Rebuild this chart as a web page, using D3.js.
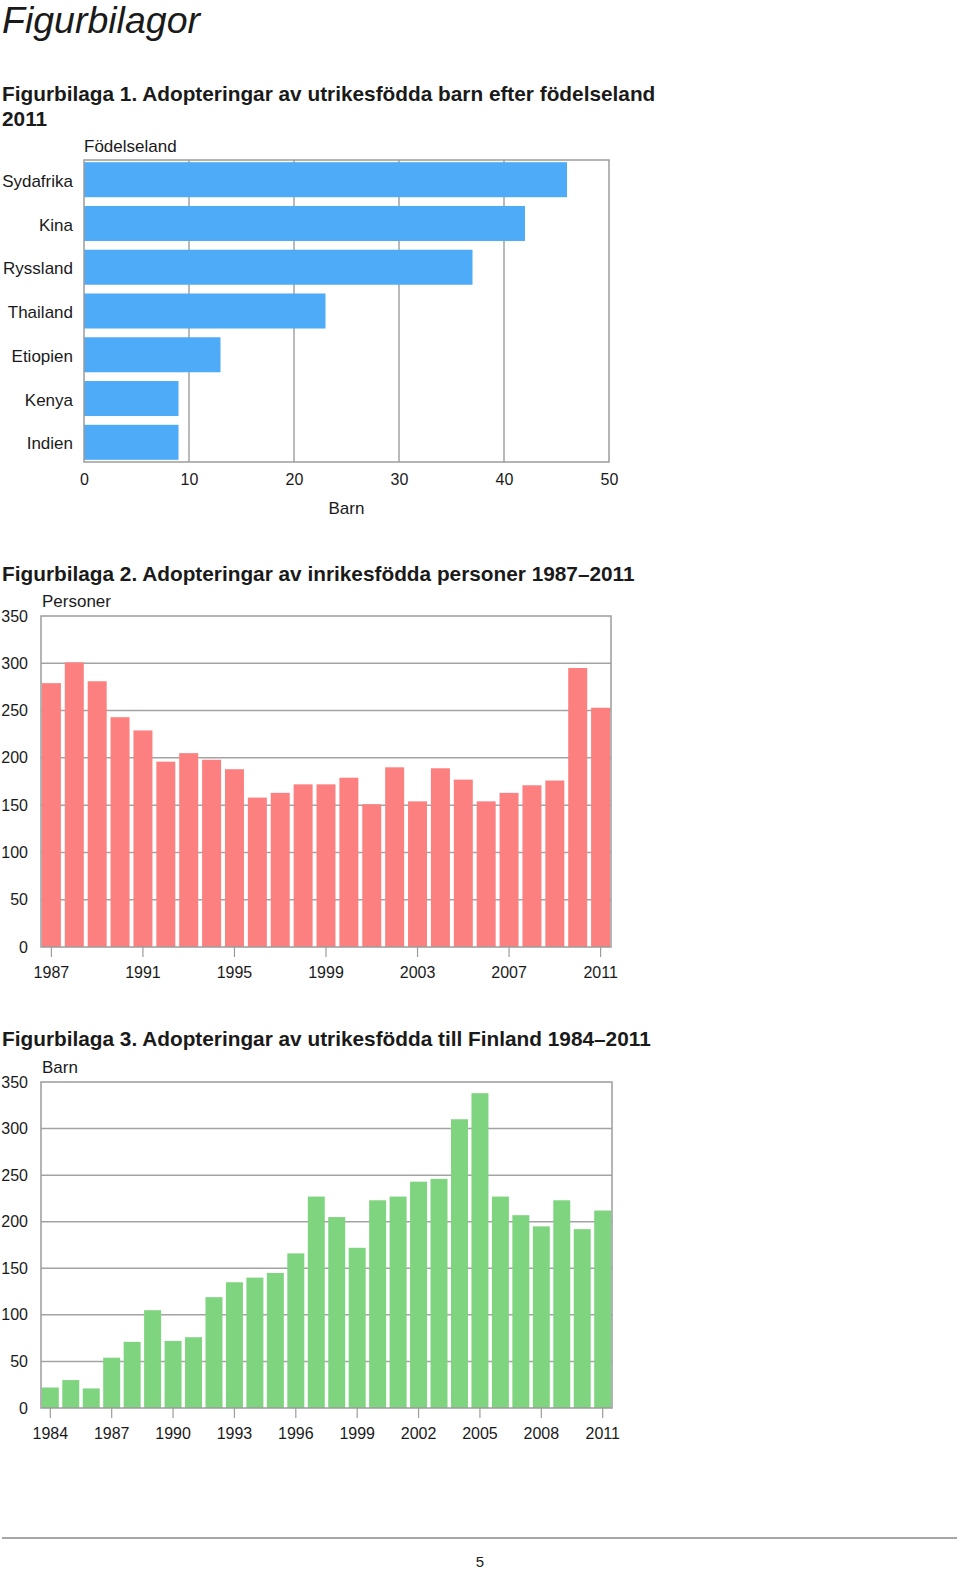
<!DOCTYPE html>
<html>
<head>
<meta charset="utf-8">
<script src="https://cdn.jsdelivr.net/npm/d3@7"></script>
<style>
  html, body { margin: 0; padding: 0; background: #fff; }
  svg { display: block; }
  text { font-family: "Liberation Sans", Arial, sans-serif; fill: #1a1a1a; }
</style>
</head>
<body>
<svg id="page" width="960" height="1572"></svg>
<script>
// ---------- Data ----------
const countries = ["Sydafrika", "Kina", "Ryssland", "Thailand", "Etiopien", "Kenya", "Indien"];
const countryValues = [46, 42, 37, 23, 13, 9, 9];
const xTicks1 = [0, 10, 20, 30, 40, 50];

const years2 = ["1987","1988","1989","1990","1991","1992","1993","1994","1995","1996","1997","1998","1999","2000","2001","2002","2003","2004","2005","2006","2007","2008","2009","2010","2011"];
const values2 = [279, 301, 281, 243, 229, 196, 205, 198, 188, 158, 163, 172, 172, 179, 151, 190, 154, 189, 177, 154, 163, 171, 176, 295, 253];
const xLabels2 = ["1987","1991","1995","1999","2003","2007","2011"];

const years3 = ["1984","1985","1986","1987","1988","1989","1990","1991","1992","1993","1994","1995","1996","1997","1998","1999","2000","2001","2002","2003","2004","2005","2006","2007","2008","2009","2010","2011"];
const values3 = [22, 30, 21, 54, 71, 105, 72, 76, 119, 135, 140, 145, 166, 227, 205, 172, 223, 227, 243, 246, 310, 338, 227, 207, 195, 223, 192, 212];
const xLabels3 = ["1984","1987","1990","1993","1996","1999","2002","2005","2008","2011"];

const yTicks = [0, 50, 100, 150, 200, 250, 300, 350];

// ---------- Styles ----------
const GRID = "#a3a3a3";
const BORDER = "#9c9c9c";
const BLUE = "#4eabf8";
const RED = "#fc8080";
const GREEN = "#7fd47f";
const FONT = "'Liberation Sans', Arial, sans-serif";

const svg = d3.select("#page");

// Page headings
svg.append("text").attr("x", 2).attr("y", 33)
  .style("font-size", "37.5px").style("font-style", "italic").text("Figurbilagor");

function heading(y, t) {
  svg.append("text").attr("x", 2).attr("y", y)
    .style("font-size", "20.8px").style("font-weight", "bold").text(t);
}
heading(101, "Figurbilaga 1. Adopteringar av utrikesfödda barn efter födelseland");
heading(126, "2011");
heading(581, "Figurbilaga 2. Adopteringar av inrikesfödda personer 1987–2011");
heading(1046, "Figurbilaga 3. Adopteringar av utrikesfödda till Finland 1984–2011");

// ---------- Chart 1: horizontal bars ----------
(function () {
  const L = 84, R = 609, T = 160, B = 462;
  const g = svg.append("g");
  const x = d3.scaleLinear().domain([0, 50]).range([L, R]);
  const y = d3.scaleBand().domain(countries).range([T, B]).paddingInner(0.2).paddingOuter(0.05);

  g.selectAll("line.grid").data(xTicks1.slice(1, -1)).join("line")
    .attr("x1", d => x(d)).attr("x2", d => x(d)).attr("y1", T).attr("y2", B)
    .attr("stroke", GRID).attr("stroke-width", 1.5);

  g.selectAll("rect.bar").data(countries).join("rect")
    .attr("x", x(0)).attr("y", d => y(d))
    .attr("width", (d, i) => x(countryValues[i]) - x(0))
    .attr("height", y.bandwidth()).attr("fill", BLUE);

  g.append("rect").attr("x", L).attr("y", T).attr("width", R - L).attr("height", B - T)
    .attr("fill", "none").attr("stroke", BORDER).attr("stroke-width", 1.5);

  const ax = g.append("g").attr("transform", `translate(0,${B})`)
    .call(d3.axisBottom(x).tickValues(xTicks1).tickSize(0).tickPadding(12));
  ax.select(".domain").remove();
  ax.selectAll("text").style("font-size", "16px").style("font-family", FONT).attr("fill", "#1a1a1a");

  const ay = g.append("g").attr("transform", `translate(${L},0)`)
    .call(d3.axisLeft(y).tickSize(0).tickPadding(11));
  ay.select(".domain").remove();
  ay.selectAll("text").style("font-size", "17px").style("font-family", FONT).attr("fill", "#1a1a1a")
    .attr("dy", "0.42em");

  g.append("text").attr("x", 84).attr("y", 152).style("font-size", "17px").text("Födelseland");
  g.append("text").attr("x", (L + R) / 2).attr("y", 514).attr("text-anchor", "middle")
    .style("font-size", "17px").text("Barn");
})();

// ---------- Vertical bar chart helper ----------
function vbar(cfg) {
  const { L, R, T, B, cats, vals, labels, color, unit } = cfg;
  const g = svg.append("g");
  const x = d3.scaleBand().domain(cats).range([L, R]).paddingInner(0.17).paddingOuter(0.04);
  const y = d3.scaleLinear().domain([0, 350]).range([B, T]);

  g.selectAll("line.grid").data(yTicks.slice(1, -1)).join("line")
    .attr("x1", L).attr("x2", R).attr("y1", d => y(d)).attr("y2", d => y(d))
    .attr("stroke", GRID).attr("stroke-width", 1.5);

  g.selectAll("rect.bar").data(cats).join("rect")
    .attr("x", d => x(d)).attr("y", (d, i) => y(vals[i]))
    .attr("width", x.bandwidth()).attr("height", (d, i) => y(0) - y(vals[i]))
    .attr("fill", color);

  g.append("rect").attr("x", L).attr("y", T).attr("width", R - L).attr("height", B - T)
    .attr("fill", "none").attr("stroke", BORDER).attr("stroke-width", 1.5);

  const ay = g.append("g").attr("transform", `translate(${L},0)`)
    .call(d3.axisLeft(y).tickValues(yTicks).tickSize(0).tickPadding(13));
  ay.select(".domain").remove();
  ay.selectAll("text").style("font-size", "16px").style("font-family", FONT).attr("fill", "#1a1a1a");

  const ax = g.append("g").attr("transform", `translate(0,${B})`)
    .call(d3.axisBottom(x).tickValues(labels).tickSize(10).tickPadding(10));
  ax.select(".domain").remove();
  ax.selectAll("line").attr("stroke", BORDER).attr("stroke-width", 1.2);
  ax.selectAll("text").style("font-size", "16px").style("font-family", FONT).attr("fill", "#1a1a1a");

  g.append("text").attr("x", L + 1).attr("y", T - 9).style("font-size", "17px").text(unit);
}

vbar({ L: 41, R: 611, T: 616, B: 947, cats: years2, vals: values2, labels: xLabels2, color: RED, unit: "Personer" });
vbar({ L: 41, R: 612, T: 1082, B: 1408, cats: years3, vals: values3, labels: xLabels3, color: GREEN, unit: "Barn" });

// ---------- Footer ----------
svg.append("line").attr("x1", 2).attr("x2", 957).attr("y1", 1538).attr("y2", 1538)
  .attr("stroke", "#8a8a8a").attr("stroke-width", 1.5);
svg.append("text").attr("x", 480).attr("y", 1567).attr("text-anchor", "middle")
  .style("font-size", "15px").text("5");
</script>
</body>
</html>
